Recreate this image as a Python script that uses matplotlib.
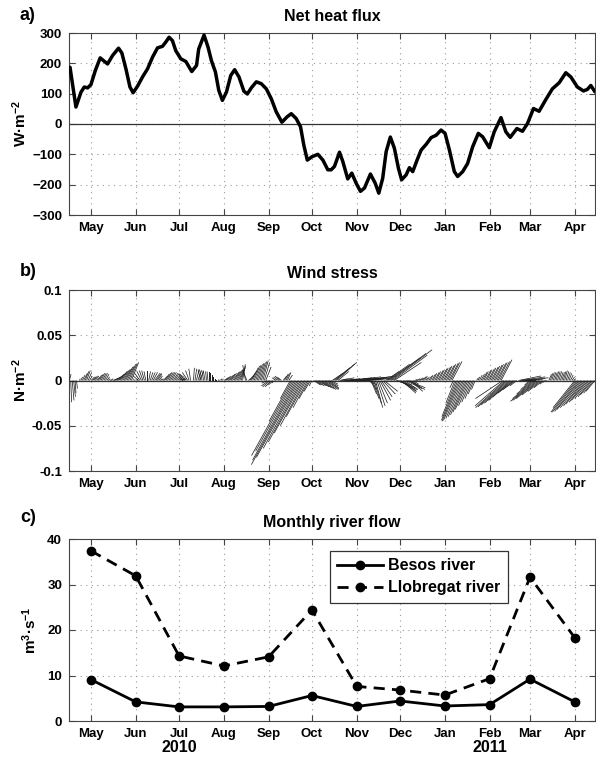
import matplotlib
matplotlib.use("Agg")
import numpy as np
import matplotlib.pyplot as plt
import matplotlib.dates as mdates

plt.rcParams['font.family'] = ['Liberation Sans', 'DejaVu Sans']
plt.rcParams['font.weight'] = 'bold'
plt.rcParams['axes.labelweight'] = 'bold'
plt.rcParams['axes.titleweight'] = 'bold'
plt.rcParams['mathtext.fontset'] = 'custom'
plt.rcParams['mathtext.rm'] = 'Liberation Sans:bold'
plt.rcParams['mathtext.bf'] = 'Liberation Sans:bold'
plt.rcParams['mathtext.default'] = 'bf'

# ---------------------------------------------------------------- data
record_start = np.datetime64('2010-04-30')

# Net heat flux (W m-2), day offsets from record_start
flux_day = [0.5, 4.6, 8.1, 10.4, 12.7, 15.0, 18.0, 21.4, 24.2, 26.5,
            30.0, 34.1, 36.4, 39.2, 42.0, 44.2, 47.3, 50.7, 54.2, 57.6,
            61.1, 64.5, 66.8, 69.1, 71.4, 73.7, 77.2, 80.7, 84.8, 88.1,
            89.6, 93.3, 96.1, 98.4, 101.2, 103.5, 106.0, 108.8, 111.8, 114.5,
            117.5, 120.9, 123.3, 126.0, 129.5, 132.9, 136.4, 139.8, 143.3, 147.2,
            150.9, 153.7, 157.1, 160.1, 162.4, 164.8, 168.0, 172.1, 175.6, 179.0,
            181.3, 183.6, 187.1, 189.4, 192.8, 195.6, 198.6, 201.6, 204.4, 208.5,
            211.8, 214.3, 217.0, 219.4, 222.3, 225.1, 227.9, 230.1, 233.2, 235.5,
            237.8, 240.8, 243.6, 247.1, 250.5, 254.0, 257.4, 260.2, 263.2, 266.6,
            268.9, 272.4, 275.8, 279.3, 283.2, 286.2, 290.8, 294.2, 298.9, 302.3,
            305.3, 309.9, 313.8, 317.3, 321.4, 325.3, 330.0, 334.5, 339.2, 343.8,
            347.3, 351.8, 356.0, 358.7, 361.1, 364.0]
flux_val = [187, 56, 105, 122, 119, 130, 176, 218, 207, 198,
            226, 250, 234, 182, 122, 103, 125, 155, 182, 220,
            251, 256, 270, 286, 275, 242, 215, 206, 173, 193,
            247, 293, 253, 209, 171, 111, 78, 105, 160, 179,
            155, 108, 99, 119, 139, 133, 116, 84, 40, 6,
            24, 34, 18, -9, -70, -119, -108, -100, -119, -151,
            -151, -140, -93, -124, -181, -162, -195, -222, -211, -165,
            -195, -228, -179, -91, -43, -80, -146, -184, -168, -144,
            -157, -119, -86, -67, -45, -37, -20, -31, -86, -157,
            -173, -157, -130, -75, -31, -42, -78, -26, 21, -26,
            -44, -15, -24, 2, 51, 42, 81, 116, 136, 169,
            155, 122, 109, 114, 127, 106]

# Daily wind stress components (1e-3 N m-2), one stick per day from record_start
stress_u = [2, 1, 2, 2, 1, 1, 0,
            1, 2, 3, 4, 4, 4, 4, 3,
            4, 4, 4, 4, 4,
            4, 4, 4, 4, 4, 4, 3,
            2, 2, 2,
            8, 8, 8, 8, 8, 8, 8, 8, 8, 8, 8, 8, 8, 8,
            1, 1, 1, 1,
            -6, -6, -5, -4, -3, -2, 0, 2, 3, 4, 5, 6, 6, 5, 4,
            2, 2,
            5, 5, 5, 5, 5, 5, 5, 5, 5, 5, 5, 5, 5, 5,
            -4, -6,
            -8, -6, -4, -2, 0, 1, 2, 3, 4, 5,
            -3, -3, -2, -2, -1, -1, 0, 0, 0, 0, 0, 0,
            1, 1, 1, 1,
            5, 5, 5, 6, 6, 6, 7, 7, 7, 7, 7, 6, 5, 3, 0, -3, -5,
            6, 6, 6, 6, 6, 6, 6, 6, 6, 6, 6, 6, 6,
            -6, -8, -8, -7, -5, -3,
            -4, -4, -4, -4, -4,
            4, 4, 4, 4, 4,
            -11, -25, -46, -43, -48, -51, -47, -41, -37, -32, -27, -22, -16, -11, -7, -3,
            8, 8, 9, 10, 11, 12, 13, 14, 15, 14, 12, 10, 8,
            12, 18, 24, 20, 12,
            10, 15, 20, 25, 30, 28, 25, 22, 20, 25, 30, 35, 30, 25, 20, 25, 30, 35,
            30, 25, 10, 8,
            6, 7, 8, 8, 9, 10, 12, 12, 14, 15,
            15, 25, 35, 40, 45, 38, 30,
            18, 20, 20, 18, 16, 15, 15, 18, 20, 18, 14, 10, 6,
            3, 3, 3, 3, 3, 3, 3, 3,
            2, 2, 3, 3, 4, 4, 5, 5, 6, 6, 7, 7, 8, 8, 9, 9, 10, 10, 11,
            -4, -10, -16, -18, -19, -19, -18, -17, -16, -15, -14, -12, -10, -8, -6, -4,
            2, 2, 3, 4, 5, 5, 6, 6, 7, 7, 8, 8, 9, 9, 10, 10, 11, 12,
            -30, -32, -33, -32, -30, -28, -25, -22, -18, -14, -8,
            25, 28, 30, 25, 20, 15, 10, 8,
            -6, -12, -18, -24, -28, -27, -25, -20, -15, -10, -5, -3, -2,
            3, 3, 3, 3, 3, 3, 3, 3, 3, 3, 3, 3, 3, 3, 3, 3, 3, 3,
            -24, -28, -28, -27, -26, -24, -22, -21, -19, -18, -16, -14, -13, -11, -10]
stress_v = [7, -24, -22, -18, -14, -9, -4,
            2, 4, 6, 8, 10, 11, 9, 5,
            4, 4, 5, 5, 4,
            6, 7, 8, 8, 8, 7, 4,
            2, 1, 2,
            3, 4, 5, 7, 8, 10, 11, 12, 13, 15, 16, 18, 19, 20,
            2, 1, 1, 2,
            5, 8, 10, 11, 11, 10, 10, 10, 9, 9, 9, 8, 8, 7, 5,
            2, 2,
            5, 7, 8, 9, 9, 9, 9, 8, 8, 7, 6, 5, 3, 2,
            2, 4,
            7, 9, 11, 13, 14, 14, 13, 12, 11, 10,
            12, 12, 11, 11, 10, 10, 9, 8, 6, 4, 2, 1,
            1, 1, 2, 2,
            3, 4, 5, 6, 7, 8, 9, 10, 11, 12, 13, 14, 16, 18, 19, 17, 12,
            5, 8, 11, 14, 16, 17, 18, 19, 20, 21, 22, 20, 15,
            -3, -6, -7, -7, -5, -3,
            3, 4, 5, 4, 3,
            5, 7, 8, 9, 6,
            -20, -45, -83, -78, -88, -93, -85, -75, -68, -58, -50, -40, -30, -20, -12, -6,
            -5, -5, -6, -6, -7, -8, -9, -10, -10, -9, -8, -6, -4,
            8, 14, 20, 18, 10,
            2, 3, 2, 1, 2, 3, 2, 1, 2, 3, 4, 3, 2, 1, 2, 3, 4, 5,
            3, 2, -5, -10,
            -15, -20, -25, -30, -28, -25, -22, -18, -15, -12,
            10, 18, 25, 30, 34, 28, 20,
            -5, -8, -10, -12, -14, -12, -10, -9, -8, -10, -12, -8, -4,
            1, 1, 2, 2, 3, 3, 4, 5,
            3, 4, 5, 6, 7, 8, 9, 10, 11, 12, 13, 14, 15, 16, 17, 18, 19, 20, 21,
            -8, -25, -40, -44, -45, -44, -42, -40, -38, -35, -32, -28, -24, -20, -15, -10,
            3, 4, 6, 7, 9, 10, 11, 12, 13, 14, 15, 16, 17, 18, 19, 20, 21, 23,
            -20, -28, -30, -29, -27, -25, -22, -18, -14, -10, -6,
            5, 4, 3, 2, 1, 1, 0, -1,
            -5, -10, -15, -20, -23, -22, -20, -16, -12, -8, -4, -2, -1,
            7, 8, 9, 9, 9, 10, 10, 10, 9, 9, 10, 11, 10, 9, 8, 6, 4, 2,
            -30, -35, -35, -34, -32, -30, -28, -26, -24, -22, -20, -18, -16, -14, -12]

# Monthly river flow (m3 s-1)
months = ['2010-05-15', '2010-06-15', '2010-07-15', '2010-08-15', '2010-09-15',
          '2010-10-15', '2010-11-15', '2010-12-15', '2011-01-15', '2011-02-15',
          '2011-03-15', '2011-04-15']
besos = [9.1, 4.2, 3.1, 3.1, 3.2, 5.6, 3.2, 4.4, 3.3, 3.6, 9.2, 4.2]
llobregat = [37.4, 31.9, 14.3, 12.1, 14.1, 24.4, 7.6, 6.8, 5.7, 9.3, 31.6, 18.3]

# ---------------------------------------------------------------- helpers
t0 = mdates.date2num(record_start)
month_x = mdates.date2num(np.array(months, dtype='datetime64[D]'))
xlim = (t0 - 0.2, t0 + 364.0)

FIG_W, FIG_H = 596, 758
fig = plt.figure(figsize=(FIG_W / 100, FIG_H / 100), dpi=100)


def make_axes(top_px, bottom_px):
    left, right = 69, 595
    return fig.add_axes([left / FIG_W, 1 - bottom_px / FIG_H,
                         (right - left) / FIG_W, (bottom_px - top_px) / FIG_H])


def style_axes(ax):
    ax.set_xlim(*xlim)
    ax.set_xticks(month_x)
    ax.xaxis.set_major_formatter(mdates.DateFormatter('%b'))
    ax.tick_params(direction='in', top=True, right=True, length=4, width=0.8,
                   color='#444444', labelsize=9.5, pad=5)
    ax.grid(True, linestyle=(0, (1, 4)), color='#9a9a9a', linewidth=0.8)
    ax.set_axisbelow(True)
    for s in ax.spines.values():
        s.set_color('#444444')
        s.set_linewidth(0.8)


# ---------------------------------------------------------------- a) heat flux
ax1 = make_axes(33, 215)
style_axes(ax1)
ax1.axhline(0, color='#333333', linewidth=0.9, zorder=2)
ax1.plot(t0 + np.array(flux_day), flux_val, color='black', linewidth=2.5,
         solid_joinstyle='round', solid_capstyle='round', zorder=3)
ax1.set_ylim(-300, 300)
ax1.set_yticks([-300, -200, -100, 0, 100, 200, 300])
ax1.set_ylabel('W·m$^{-2}$', fontsize=11, labelpad=2)
ax1.set_title('Net heat flux', fontsize=11.5, pad=9)

# ---------------------------------------------------------------- b) wind stress
ax2 = make_axes(290, 471)
style_axes(ax2)
stick_x = t0 + np.arange(len(stress_v))
ax2.axhline(0, color='#333333', linewidth=0.9, zorder=2)
ax2.quiver(stick_x, np.zeros(len(stress_v)), np.array(stress_u) * 1e-3,
           np.array(stress_v) * 1e-3, angles='uv', scale_units='y', scale=1,
           units='dots', width=0.75, headwidth=0, headlength=0,
           headaxislength=0, minlength=0, pivot='tail', color='#222222',
           zorder=3)
ax2.set_ylim(-0.1, 0.1)
ax2.set_yticks([-0.1, -0.05, 0, 0.05, 0.1])
ax2.set_yticklabels(['-0.1', '-0.05', '0', '0.05', '0.1'])
ax2.set_ylabel('N·m$^{-2}$', fontsize=11, labelpad=2)
ax2.set_title('Wind stress', fontsize=11.5, pad=9)

# ---------------------------------------------------------------- c) river flow
ax3 = make_axes(539, 721)
style_axes(ax3)
ax3.plot(month_x, besos, color='black', linestyle='-', linewidth=2.0,
         marker='o', markersize=6, label='Besos river', zorder=3)
ax3.plot(month_x, llobregat, color='black', linestyle=(0, (4, 2.6)),
         linewidth=2.0, marker='o', markersize=6, label='Llobregat river',
         zorder=3)
ax3.set_ylim(0, 40)
ax3.set_yticks([0, 10, 20, 30, 40])
ax3.set_ylabel('m$^{3}$·s$^{-1}$', fontsize=11, labelpad=6)
ax3.set_title('Monthly river flow', fontsize=11.5, pad=9)
leg = ax3.legend(loc='upper right', bbox_to_anchor=(0.834, 0.934),
                 fontsize=11.5, frameon=True, fancybox=False, framealpha=1,
                 edgecolor='#333333', handlelength=2.9, handletextpad=0.3,
                 borderpad=0.45, labelspacing=0.45, borderaxespad=0)
leg.get_frame().set_linewidth(0.9)

# year labels under the month axis
ax3.text(month_x[2], -0.148, '2010', transform=ax3.get_xaxis_transform(),
         ha='center', va='center', fontsize=11.5, fontweight='bold')
ax3.text(month_x[9], -0.148, '2011', transform=ax3.get_xaxis_transform(),
         ha='center', va='center', fontsize=11.5, fontweight='bold')

# panel letters
for label, ypx in [('a)', 16), ('b)', 272), ('c)', 518)]:
    fig.text(20 / FIG_W, 1 - ypx / FIG_H, label, fontsize=13,
             fontweight='bold', ha='left', va='center')

fig.savefig('out.png', dpi=100)
